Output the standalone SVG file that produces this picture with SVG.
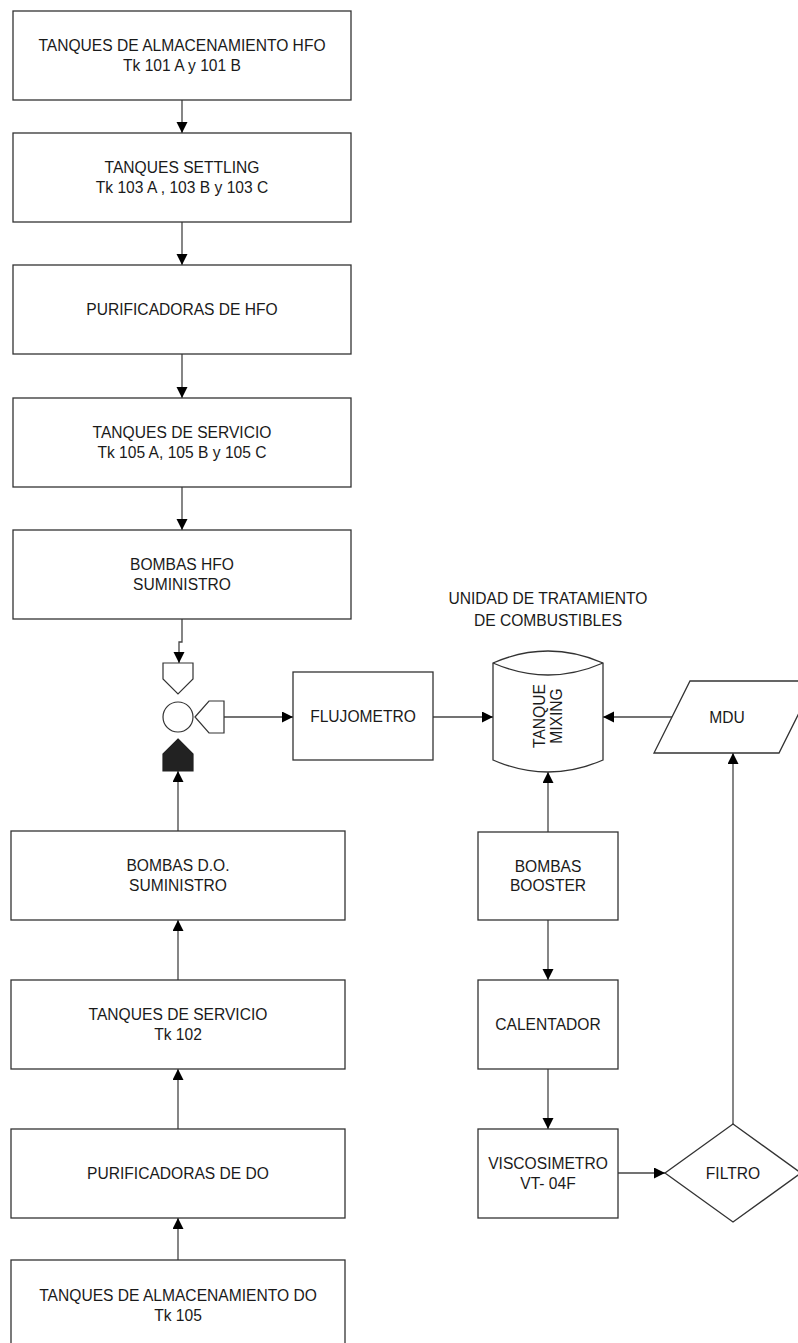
<svg xmlns="http://www.w3.org/2000/svg" width="798" height="1343" viewBox="0 0 798 1343">
<style>
.box{fill:#fff;stroke:#333;stroke-width:1.3}
.ln{fill:none;stroke:#444;stroke-width:1.3}
.t{font-family:"Liberation Sans",Arial,sans-serif;font-size:15.6px;fill:#1a1a1a;text-anchor:middle}
</style>
<defs>
<marker id="ah" markerUnits="userSpaceOnUse" markerWidth="12" markerHeight="12" refX="11" refY="5.5" orient="auto">
<path d="M0,0 L11,5.5 L0,11 z" fill="#000"/>
</marker>
</defs>
<rect width="798" height="1343" fill="#fff"/>
<g id="connectors">
<path class="ln" marker-end="url(#ah)" d="M182,100 V133"/>
<path class="ln" marker-end="url(#ah)" d="M182,222 V265"/>
<path class="ln" marker-end="url(#ah)" d="M182,354 V398"/>
<path class="ln" marker-end="url(#ah)" d="M182,487 V530"/>
<path class="ln" marker-end="url(#ah)" d="M182,619 V642 H179 V663"/>
<path class="ln" marker-end="url(#ah)" d="M224,717 H293"/>
<path class="ln" marker-end="url(#ah)" d="M433,717 H493"/>
<path class="ln" marker-end="url(#ah)" d="M672,717 H603"/>
<path class="ln" marker-end="url(#ah)" d="M178,831 V771"/>
<path class="ln" marker-end="url(#ah)" d="M178,980 V920"/>
<path class="ln" marker-end="url(#ah)" d="M178,1129 V1069"/>
<path class="ln" marker-end="url(#ah)" d="M178,1260 V1218"/>
<path class="ln" marker-end="url(#ah)" d="M548,832 V772"/>
<path class="ln" marker-end="url(#ah)" d="M548,920 V980"/>
<path class="ln" marker-end="url(#ah)" d="M548,1069 V1129"/>
<path class="ln" marker-end="url(#ah)" d="M618,1173 H665"/>
<path class="ln" marker-end="url(#ah)" d="M733,1124 V753"/>
</g>
<g id="n1"><rect class="box" x="13" y="11" width="338" height="89"/><text class="t" x="182" y="50.7">TANQUES DE ALMACENAMIENTO HFO</text><text class="t" x="182" y="71">Tk 101 A y 101 B</text></g>
<g id="n2"><rect class="box" x="13" y="133" width="338" height="89"/><text class="t" x="182" y="172.5">TANQUES SETTLING</text><text class="t" x="182" y="192.8">Tk 103 A , 103 B y 103 C</text></g>
<g id="n3"><rect class="box" x="13" y="265" width="338" height="89"/><text class="t" x="182" y="315">PURIFICADORAS DE HFO</text></g>
<g id="n4"><rect class="box" x="13" y="398" width="338" height="89"/><text class="t" x="182" y="437.5">TANQUES DE SERVICIO</text><text class="t" x="182" y="457.8">Tk 105 A, 105 B y 105 C</text></g>
<g id="n5"><rect class="box" x="13" y="530" width="338" height="89"/><text class="t" x="182" y="569.5">BOMBAS HFO</text><text class="t" x="182" y="589.8">SUMINISTRO</text></g>
<g id="valve">
<polygon points="163,663 193,663 193,679 178,694 163,679" fill="#fff" stroke="#333" stroke-width="1.2"/>
<circle cx="178" cy="717" r="15" fill="#fff" stroke="#333" stroke-width="1.2"/>
<polygon points="195,717 209,701 224,701 224,733 209,733" fill="#fff" stroke="#333" stroke-width="1.2"/>
<polygon points="178,739 193,754 193,771 163,771 163,754" fill="#222" stroke="#222" stroke-width="1.2"/>
</g>
<g id="n6"><rect class="box" x="11" y="831" width="334" height="89"/><text class="t" x="178" y="870.5">BOMBAS D.O.</text><text class="t" x="178" y="890.8">SUMINISTRO</text></g>
<g id="n7"><rect class="box" x="11" y="980" width="334" height="89"/><text class="t" x="178" y="1019.5">TANQUES DE SERVICIO</text><text class="t" x="178" y="1039.8">Tk 102</text></g>
<g id="n8"><rect class="box" x="11" y="1129" width="334" height="89"/><text class="t" x="178" y="1179">PURIFICADORAS DE DO</text></g>
<g id="n9"><rect class="box" x="11" y="1260" width="334" height="89"/><text class="t" x="178" y="1300.5">TANQUES DE ALMACENAMIENTO DO</text><text class="t" x="178" y="1320.8">Tk 105</text></g>
<g id="flujometro"><rect class="box" x="293" y="672" width="140" height="88"/><text class="t" x="363" y="722">FLUJOMETRO</text></g>
<g id="title"><text class="t" x="548" y="604">UNIDAD DE TRATAMIENTO</text><text class="t" x="548" y="625.5">DE COMBUSTIBLES</text></g>
<g id="tanque">
<path d="M493,663 Q548,639 603,663 V760 Q548,784 493,760 Z" fill="#fff" stroke="#333" stroke-width="1.3"/>
<path d="M493,663 Q548,687 603,663" fill="none" stroke="#333" stroke-width="1.3"/>
<text class="t" transform="translate(545,716) rotate(-90)">TANQUE</text>
<text class="t" transform="translate(562,716) rotate(-90)">MIXING</text>
</g>
<g id="mdu"><polygon class="box" points="690,681 815,681 779,753 654,753"/><text class="t" x="727" y="722.5">MDU</text></g>
<g id="booster"><rect class="box" x="478" y="832" width="140" height="88"/><text class="t" x="548" y="872">BOMBAS</text><text class="t" x="548" y="891">BOOSTER</text></g>
<g id="calentador"><rect class="box" x="478" y="980" width="140" height="89"/><text class="t" x="548" y="1030">CALENTADOR</text></g>
<g id="viscosimetro"><rect class="box" x="478" y="1129" width="140" height="89"/><text class="t" x="548" y="1169">VISCOSIMETRO</text><text class="t" x="548" y="1189">VT- 04F</text></g>
<g id="filtro"><polygon class="box" points="733,1124 801,1173 733,1222 665,1173"/><text class="t" x="733" y="1178.5">FILTRO</text></g>
</svg>
